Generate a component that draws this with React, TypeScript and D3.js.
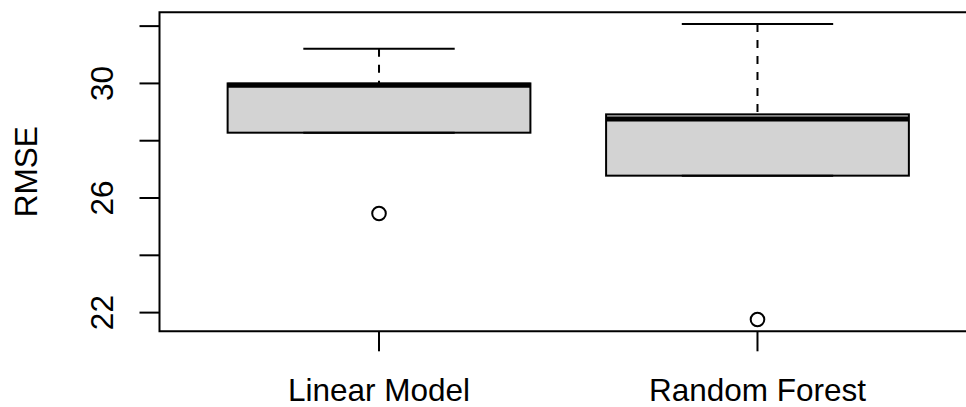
import React from 'react';
import * as d3 from 'd3';

// RMSE summaries (lower whisker sits on Q1 for both)
const categories = ['Linear Model', 'Random Forest'];
const lowerWhisker = [28.28, 26.78];
const q1 = [28.28, 26.78];
const median = [29.94, 28.76];
const q3 = [30.0, 28.92];
const upperWhisker = [31.21, 32.07];
const outliers = [[25.46], [21.76]];

const yTicks = [22, 24, 26, 28, 30, 32];
const yTickLabels = [22, 26, 30];

const W = 966;
const H = 407;
const plot = { left: 159.5, top: 12.3, bottom: 331.3, right: 977 };
const FONT = '"Liberation Sans", Arial, Helvetica, sans-serif';
const FS = 31.5;

const App = () => {
  React.useEffect(() => {
    document.body.style.margin = '0';
  }, []);

  // R style: data range padded by 4% on each side
  const allVals = [...lowerWhisker, ...upperWhisker, ...outliers.flat()];
  const [lo, hi] = d3.extent(allVals) as [number, number];
  const pad = (hi - lo) * 0.04;
  const y = d3.scaleLinear().domain([lo - pad, hi + pad]).range([plot.bottom, plot.top]);

  // groups at 1..n, xlim = [0.5, n + 0.5] padded by 4%
  const n = categories.length;
  const xpad = n * 0.04;
  const x = d3.scaleLinear().domain([0.5 - xpad, n + 0.5 + xpad]).range([plot.left, plot.right]);
  const boxHalf = x(0.4) - x(0);
  const capHalf = x(0.2) - x(0);

  return (
    <svg width={W} height={H} style={{ display: 'block', background: '#fff' }}>
      {categories.map((c, i) => {
        const cx = x(i + 1);
        return (
          <g key={c}>
            {/* whiskers */}
            <line x1={cx} x2={cx} y1={y(upperWhisker[i])} y2={y(q3[i])} stroke="#000" strokeWidth={2} strokeDasharray="8,8" />
            <line x1={cx} x2={cx} y1={y(lowerWhisker[i])} y2={y(q1[i])} stroke="#000" strokeWidth={2} strokeDasharray="8,8" />
            <line x1={cx - capHalf} x2={cx + capHalf} y1={y(upperWhisker[i])} y2={y(upperWhisker[i])} stroke="#000" strokeWidth={2} />
            {/* box */}
            <rect x={cx - boxHalf} y={y(q3[i])} width={boxHalf * 2} height={y(q1[i]) - y(q3[i])} fill="#D3D3D3" stroke="#000" strokeWidth={2} />
            <line x1={cx - capHalf} x2={cx + capHalf} y1={y(lowerWhisker[i])} y2={y(lowerWhisker[i])} stroke="#000" strokeWidth={2} />
            {/* median */}
            <line x1={cx - boxHalf} x2={cx + boxHalf} y1={y(median[i])} y2={y(median[i])} stroke="#000" strokeWidth={5} />
            {outliers[i].map((v, j) => (
              <circle key={j} cx={cx} cy={y(v)} r={6.8} fill="none" stroke="#000" strokeWidth={2} />
            ))}
          </g>
        );
      })}

      {/* frame */}
      <path d={`M${plot.right},${plot.top}H${plot.left}V${plot.bottom}H${plot.right}`} fill="none" stroke="#000" strokeWidth={2} />

      {/* y axis */}
      {yTicks.map(t => (
        <line key={t} x1={plot.left - 20} x2={plot.left} y1={y(t)} y2={y(t)} stroke="#000" strokeWidth={2} />
      ))}
      {yTickLabels.map(t => (
        <text key={t} transform={`translate(113,${y(t)}) rotate(-90)`} textAnchor="middle" fontFamily={FONT} fontSize={FS}>
          {t}
        </text>
      ))}
      <text transform={`translate(36.7,${(plot.top + plot.bottom) / 2}) rotate(-90)`} textAnchor="middle" fontFamily={FONT} fontSize={FS}>
        RMSE
      </text>

      {/* x axis */}
      {categories.map((c, i) => (
        <g key={c}>
          <line x1={x(i + 1)} x2={x(i + 1)} y1={plot.bottom} y2={plot.bottom + 20} stroke="#000" strokeWidth={2} />
          <text x={x(i + 1)} y={400.7} textAnchor="middle" fontFamily={FONT} fontSize={FS}>
            {c}
          </text>
        </g>
      ))}
    </svg>
  );
};

export default App;
